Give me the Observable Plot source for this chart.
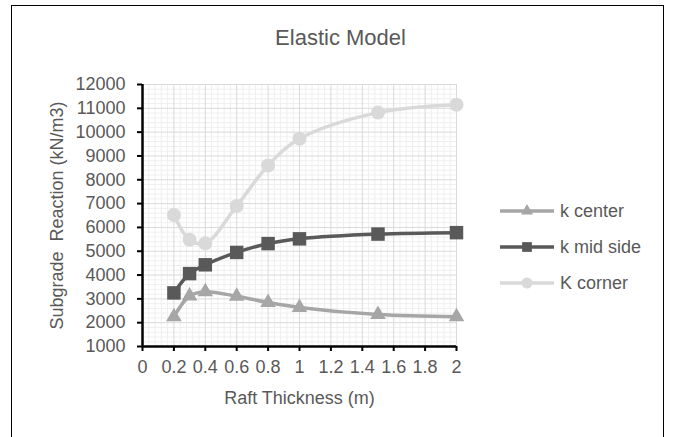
<!DOCTYPE html>
<html>
<head>
<meta charset="utf-8">
<script src="https://cdn.jsdelivr.net/npm/d3@7"></script>
<script src="https://cdn.jsdelivr.net/npm/@observablehq/plot@0.6"></script>
<style>
  html, body { margin: 0; padding: 0; background: #fff; overflow: hidden; }
  #wrap { position: relative; width: 677px; height: 437px; overflow: hidden; font-family: "Liberation Sans", Arial, sans-serif; color: #595959; }
  #border { position: absolute; left: 11px; top: 5px; width: 653px; height: 500px; border: 1px solid #000; box-sizing: border-box; }
  #title { position: absolute; left: 0; width: 681px; top: 25px; text-align: center; font-size: 22px; line-height: 26px; }
  #chart { position: absolute; left: 0; top: 0; }
  .leg { position: absolute; left: 498px; height: 20px; display: flex; align-items: center; font-size: 18px; }
  .leg svg { margin-right: 4px; }
</style>
</head>
<body>
<div id="wrap">
  <div id="border"></div>
  <div id="chart"></div>
  <div id="title">Elastic Model</div>
  <div id="legend"></div>
</div>
<script>
const thickness = [0.2, 0.3, 0.4, 0.6, 0.8, 1, 1.5, 2];
const kCenter   = [2250, 3120, 3300, 3110, 2850, 2640, 2340, 2250];
const kMidSide  = [3250, 4060, 4430, 4950, 5320, 5520, 5720, 5780];
const kCorner   = [6520, 5480, 5330, 6900, 8600, 9720, 10820, 11150];
const seriesNames = ["k center", "k mid side", "K corner"];
const seriesColors = ["#a6a6a6", "#595959", "#d9d9d9"];
const seriesSymbols = ["triangle", "square", "circle"];
const seriesR = [5.8, 7.6, 7];
const xTicks = [0, 0.2, 0.4, 0.6, 0.8, 1, 1.2, 1.4, 1.6, 1.8, 2];
const yTicks = [1000, 2000, 3000, 4000, 5000, 6000, 7000, 8000, 9000, 10000, 11000, 12000];

const allSeries = [kCenter, kMidSide, kCorner];
const rows = allSeries.flatMap((vals, i) => thickness.map((t, j) => ({x: t, y: vals[j], s: seriesNames[i]})));

// minor grid positions (5 subdivisions between major ticks)
const xMinor = d3.range(0, 10).flatMap(i => [1,2,3,4].map(k => +(i*0.2 + k*0.04).toFixed(3)));
const yMinor = d3.range(0, 11).flatMap(i => [1,2,3,4].map(k => yTicks[0] + i*1000 + k*200));

const marks = [
  Plot.ruleX(xMinor, {stroke: "#efefef", strokeWidth: 1}),
  Plot.ruleY(yMinor, {stroke: "#efefef", strokeWidth: 1}),
  Plot.ruleX(xTicks.slice(1), {stroke: "#d9d9d9", strokeWidth: 1}),
  Plot.ruleY(yTicks.slice(1), {stroke: "#d9d9d9", strokeWidth: 1}),
];
seriesNames.forEach((name, i) => {
  const d = rows.filter(r => r.s === name);
  marks.push(Plot.line(d, {x: "x", y: "y", stroke: seriesColors[i], strokeWidth: 3.5, curve: "catmull-rom"}));
  marks.push(Plot.dot(d, {x: "x", y: "y", fill: seriesColors[i], stroke: "none", symbol: seriesSymbols[i], r: seriesR[i]}));
});
marks.push(
  Plot.axisX({ticks: xTicks, tickSize: 5, tickPadding: 9, stroke: "#000", strokeWidth: 2, fill: "#595959", fontSize: 18,
    tickFormat: d => String(+d.toFixed(1)), label: null}),
  Plot.axisY({ticks: yTicks, tickSize: 5, tickPadding: 12, stroke: "#000", strokeWidth: 2, fill: "#595959", fontSize: 18,
    tickFormat: d3.format("d"), label: null}),
  Plot.ruleX([0], {stroke: "#000", strokeWidth: 2.5}),
  Plot.ruleY([1000], {stroke: "#000", strokeWidth: 2.5}),
  Plot.text(["Raft Thickness (m)"], {frameAnchor: "bottom", dy: 57, fontSize: 18, fill: "#595959", text: d => d}),
  Plot.text(["Subgrade  Reaction (kN/m3)"], {frameAnchor: "left", dx: -85, rotate: -90, textAnchor: "middle", fontSize: 18, fill: "#595959", text: d => d})
);

const chart = Plot.plot({
  width: 677,
  height: 437,
  marginLeft: 142,
  marginRight: 221,
  marginTop: 84,
  marginBottom: 91,
  style: {fontFamily: "'Liberation Sans', Arial, sans-serif", fontSize: "18px", color: "#595959", background: "transparent", overflow: "visible"},
  x: {domain: [0, 2]},
  y: {domain: [1000, 12000]},
  marks
});
document.getElementById("chart").appendChild(chart);

// legend
const legend = document.getElementById("legend");
const legY = [201, 237, 273];
seriesNames.forEach((name, i) => {
  const div = document.createElement("div");
  div.className = "leg";
  div.style.top = legY[i] + "px";
  const svg = d3.create("svg").attr("width", 58).attr("height", 20);
  svg.append("line").attr("x1", 2).attr("x2", 56).attr("y1", 10).attr("y2", 10)
    .attr("stroke", seriesColors[i]).attr("stroke-width", 3.5);
  const sym = {triangle: d3.symbolTriangle, square: d3.symbolSquare, circle: d3.symbolCircle}[seriesSymbols[i]];
  const r = [4.5, 5.5, 5.5][i];
  svg.append("path").attr("d", d3.symbol(sym, Math.PI * r * r)()).attr("transform", "translate(29,10)")
    .attr("fill", seriesColors[i]);
  div.appendChild(svg.node());
  const span = document.createElement("span");
  span.textContent = name;
  div.appendChild(span);
  legend.appendChild(div);
});
</script>
</body>
</html>
